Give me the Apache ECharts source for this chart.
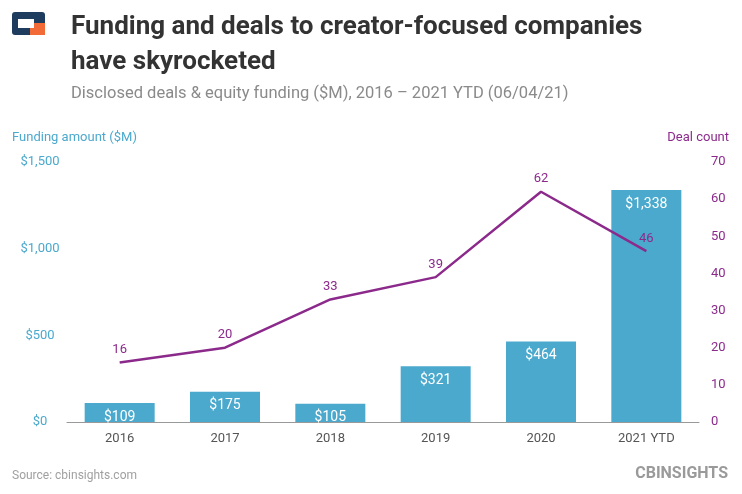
<!DOCTYPE html>
<html><head><meta charset="utf-8">
<script src="https://cdn.jsdelivr.net/npm/echarts@6/dist/echarts.min.js"></script>
<style>html,body{margin:0;padding:0;background:#fff}#c{width:742px;height:494px}</style>
</head><body><div id="c"></div>
<script>
var years = ["2016", "2017", "2018", "2019", "2020", "2021 YTD"];
var funding = [109, 175, 105, 321, 464, 1338];
var deals = [16, 20, 33, 39, 62, 46];

var blue = "#4ba9cd", purple = "#8c2a8c";
var chart = echarts.init(document.getElementById("c"));
chart.setOption({
    animation: false,
    textStyle: {fontFamily: "Roboto"},
    title: [
        {text: "Funding and deals to creator-focused companies\nhave skyrocketed", left: 66, top: 5,
         textStyle: {fontSize: 26, fontWeight: "bold", color: "#333", lineHeight: 35}},
        {text: "Disclosed deals & equity funding ($M), 2016 \u2013 2021 YTD (06/04/21)", left: 66, top: 80,
         textStyle: {fontSize: 16.5, fontWeight: "normal", color: "#8a8a8a"}}
    ],
    graphic: [
        {type: "rect", shape: {x: 12, y: 12, width: 33, height: 23, r: 3}, style: {fill: "#1d3c5e"}},
        {type: "rect", shape: {x: 30, y: 23, width: 15, height: 12}, style: {fill: "#f26b36"}},
        {type: "rect", shape: {x: 18, y: 19, width: 16, height: 9}, style: {fill: "#fff"}},
        {type: "text", left: 12, top: 470, style: {text: "Source: cbinsights.com", fill: "#a0a0a0", font: "12px Roboto"}},
        {type: "text", right: 14, top: 466, style: {text: "CBINSIGHTS", fill: "#9a9a9a", font: "bold 16px Roboto"}}
    ],
    grid: {left: 67, right: 43, top: 162, bottom: 72},
    xAxis: {type: "category", data: years,
        axisLine: {lineStyle: {color: "#999"}}, axisTick: {show: false},
        axisLabel: {color: "#555", fontSize: 13, margin: 10}},
    yAxis: [
        {type: "value", min: 0, max: 1500, interval: 500, splitLine: {show: false},
         name: "Funding amount ($M)", nameLocation: "end", nameGap: 18,
         nameTextStyle: {color: blue, fontSize: 13, align: "left", padding: [0, 0, 0, -55]},
         axisLabel: {color: blue, fontSize: 13, align: "center", margin: 27,
            formatter: function (v) { return "$" + v.toLocaleString("en-US"); }}},
        {type: "value", min: 0, max: 70, interval: 10, splitLine: {show: false},
         name: "Deal count", nameLocation: "end", nameGap: 18,
         nameTextStyle: {color: purple, fontSize: 13, align: "right", padding: [0, -30, 0, 0]},
         axisLabel: {color: purple, fontSize: 13, margin: 12}}
    ],
    series: [
        {type: "bar", data: funding, barWidth: 70, itemStyle: {color: blue},
         label: {show: true, position: "insideTop", color: "#fff", fontSize: 14, distance: 7,
            formatter: function (p) { return "$" + p.value.toLocaleString("en-US"); }}},
        {type: "line", yAxisIndex: 1, data: deals, symbol: "circle", symbolSize: 0.1, showSymbol: true,
         itemStyle: {color: purple}, lineStyle: {color: purple, width: 2.5},
         label: {show: true, position: "top", color: purple, fontSize: 13, distance: 6}}
    ]
});
</script></body></html>
